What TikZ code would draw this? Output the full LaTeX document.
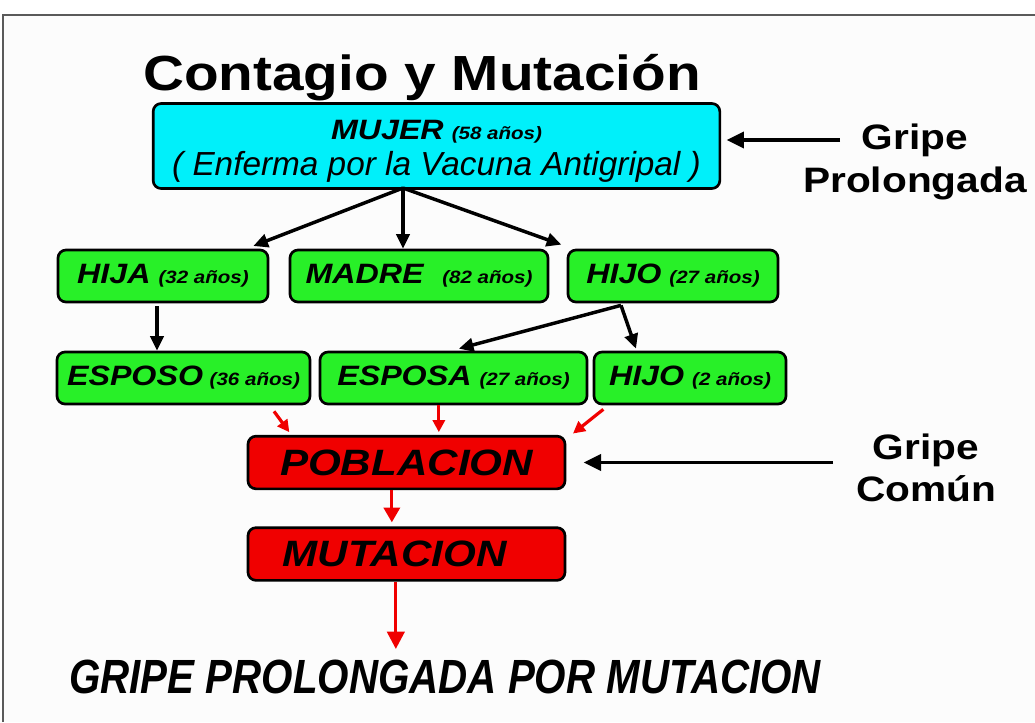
\documentclass[tikz,border=0pt]{standalone}
\usepackage{fontspec}
\setmainfont{Liberation Sans}[FakeStretch=1.15]
\newfontfamily\narrowsans{Liberation Sans}[FakeStretch=0.84]
\newfontfamily\plainsans{Liberation Sans}
\usetikzlibrary{arrows.meta}

\definecolor{mujercyan}{RGB}{0,240,250}
\definecolor{parientegreen}{RGB}{40,240,40}
\definecolor{contagiored}{RGB}{240,0,0}
\definecolor{framegray}{RGB}{90,90,90}

\tikzset{every picture/.style={line width=0.75pt}}
\tikzset{
  caja/.style={draw=black, line width=2pt, rounded corners=6pt, inner sep=0pt, align=center},
  cajamujer/.style={caja, fill=mujercyan, minimum width=425pt, minimum height=63.75pt},
  cajaverde/.style={caja, fill=parientegreen, minimum height=39pt},
  cajaroja/.style={caja, fill=contagiored, minimum width=237.75pt, minimum height=39.5pt},
  flecha/.style={line width=2.6pt, -{Triangle[length=11pt,width=10pt]}},
  flecharoja/.style={draw=contagiored, line width=2.4pt, -{Triangle[length=9pt,width=9pt]}},
  gripe/.style={inner sep=0pt, align=center, font=\fontsize{26.5pt}{32pt}\selectfont\bfseries},
}
\newcommand\nombre[1]{{\fontsize{21pt}{24pt}\selectfont\bfseries\itshape #1}}
\newcommand\edad[1]{{\fontsize{13.4pt}{15pt}\selectfont\bfseries\itshape (#1 años)}}

\begin{document}
\begin{tikzpicture}[x=0.75pt,y=0.75pt,yscale=-1,xscale=1]
\useasboundingbox (0,0) rectangle (1035,722);

%Frame
\fill [black!1] (3,15) rectangle (1035,722);
\draw [framegray, line width=1.5pt] (3,722) -- (3,15) -- (1035,15);

% Title
\node [anchor=base, inner sep=0pt] (titulo) at (422,90) {\fontsize{37pt}{40pt}\selectfont\bfseries Contagio y Mutación};

%Shape: Rounded Rect [mujer]
\node [cajamujer] (mujer) at (436.5,146) {\rule{0pt}{22pt}\nombre{MUJER}\hspace{6pt}\edad{58}\\[5pt] {\plainsans\fontsize{25pt}{28pt}\selectfont\itshape ( Enferma por la Vacuna Antigripal )}};

%Shape: Rounded Rect [familia]
\node [cajaverde, minimum width=157.5pt] (hija) at (163,276) {\nombre{HIJA}\hspace{6pt}\edad{32}};
\node [cajaverde, minimum width=193.5pt] (madre) at (419,276) {\nombre{MADRE}\hspace{14pt}\edad{82}};
\node [cajaverde, minimum width=157.5pt] (hijo) at (673,276) {\nombre{HIJO}\hspace{6pt}\edad{27}};
\node [cajaverde, minimum width=189.75pt] (esposo) at (183.5,378) {\nombre{ESPOSO}\hspace{5pt}\edad{36}};
\node [cajaverde, minimum width=200.25pt] (esposa) at (453.5,378) {\nombre{ESPOSA}\hspace{6pt}\edad{27}};
\node [cajaverde, minimum width=144pt] (nieto) at (690,378) {\nombre{HIJO}\hspace{6pt}\edad{2}};

%Shape: Rounded Rect [contagio]
\node [cajaroja] (poblacion) at (406.5,462.5) {\fontsize{27.5pt}{30pt}\selectfont\bfseries\itshape POBLACION};
\node [cajaroja] (mutacion) at (406.5,554) {\fontsize{27.5pt}{30pt}\selectfont\bfseries\itshape MUTACION\hspace{18pt}};

% Text Node
\node [anchor=base, inner sep=0pt] (final) at (445,693) {\narrowsans\fontsize{36pt}{40pt}\selectfont\bfseries\itshape GRIPE PROLONGADA POR MUTACION};
% Text Node
\node [gripe] (gripeP) at (915,162) {Gripe\\Prolongada};
\node [gripe] (gripeC) at (926,468) {Gripe\\Común};

%Straight Lines [mujer -> hijos]
\coordinate (reparto) at (403,188);
\draw [flecha] (reparto) -- ([xshift=-12pt,yshift=-2pt]hija.north east);
\draw [flecha] (reparto) -- (reparto |- madre.north);
\draw [flecha] (reparto) -- ([xshift=-4pt,yshift=-3pt]hijo.north west);

%Straight Lines [hija -> esposo]
\coordinate (hijabajo) at ([xshift=-4.5pt,yshift=2pt]hija.south);
\draw [flecha] (hijabajo) -- (hijabajo |- esposo.north);

%Straight Lines [hijo -> esposa, nieto]
\coordinate (hijobajo) at ([xshift=-39pt,yshift=1.5pt]hijo.south);
\draw [flecha] (hijobajo) -- ([xshift=4pt,yshift=-1.5pt]esposa.north);
\draw [flecha] (hijobajo) -- ([xshift=-40.5pt,yshift=-1.5pt]nieto.north);

%Straight Lines [familia -> poblacion]
\draw [flecharoja] ([xshift=-28pt,yshift=4.5pt]esposo.south east) -- ([xshift=32pt,yshift=-2pt]poblacion.north west);
\coordinate (esposabajo) at ([xshift=-11pt]esposa.south);
\draw [flecharoja] (esposabajo) -- ([yshift=-2pt]esposabajo |- poblacion.north);
\draw [flecharoja] ([xshift=8pt,yshift=3pt]nieto.south west) -- ([xshift=5pt,yshift=-1pt]poblacion.north east);

%Straight Lines [poblacion -> mutacion -> final]
\coordinate (poblabajo) at ([xshift=-11pt]poblacion.south);
\draw [flecharoja, -{Triangle[length=11pt,width=12pt]}] (poblabajo) -- ([yshift=-3pt]poblabajo |- mutacion.north);
\coordinate (mutabajo) at ([xshift=-8pt]mutacion.south);
\draw [flecharoja, -{Triangle[length=13pt,width=13pt]}] (mutabajo) -- ([yshift=-7.5pt]mutabajo |- final.north);

%Straight Lines [gripe]
\coordinate (gripePini) at (840,140);
\draw [flecha, -{Triangle[length=13pt,width=12pt]}, shorten >=4pt] (gripePini) -- (gripePini -| mujer.east);
\coordinate (gripeCini) at (833,462.5);
\draw [flecha, -{Triangle[length=13pt,width=12pt]}, shorten >=13pt] (gripeCini) -- (gripeCini -| poblacion.east);

\end{tikzpicture}
\end{document}
